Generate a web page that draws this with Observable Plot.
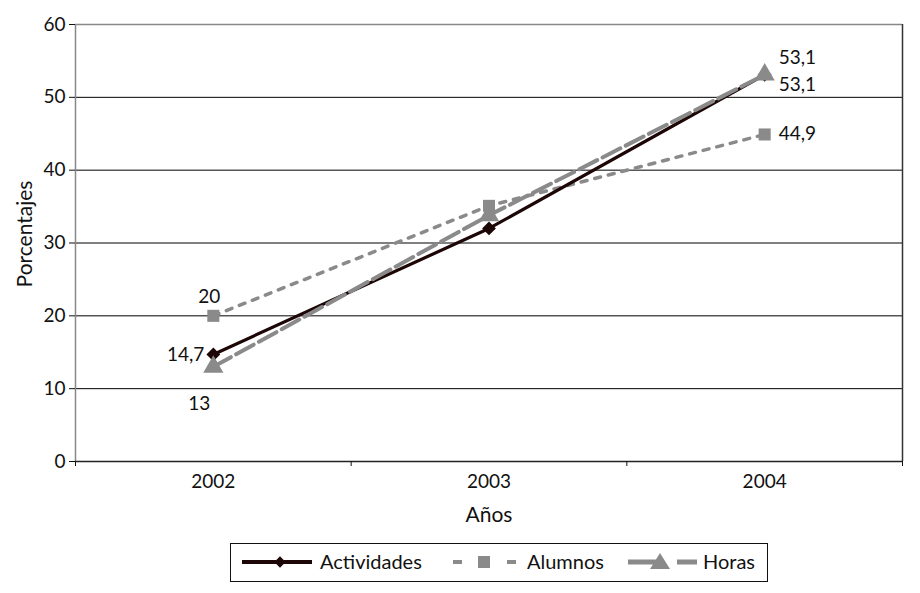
<!DOCTYPE html>
<html>
<head>
<meta charset="utf-8">
<script src="https://cdn.jsdelivr.net/npm/d3@7"></script>
<script src="https://cdn.jsdelivr.net/npm/@observablehq/plot@0.6"></script>
<style>
  body { margin: 0; background: #fff; font-family: Lato, "Open Sans", sans-serif; }
  #wrap { position: relative; width: 920px; height: 593px; }
  #legend { position: absolute; left: 0; top: 530px; }
</style>
</head>
<body>
<div id="wrap">
<div id="chart"></div>
<svg id="legend" width="920" height="63"></svg>
</div>
<script>
const years = [2002, 2003, 2004];
const actividades = [14.7, 32.0, 53.1];
const alumnos = [20, 35.1, 44.9];
const horas = [13, 33.8, 53.1];
const yTicks = [0, 10, 20, 30, 40, 50, 60];
const bandEdges = [2001.5, 2002.5, 2003.5, 2004.5];
const seriesNames = ["Actividades", "Alumnos", "Horas"];

const mk = (vals) => years.map((x, i) => ({x, y: vals[i]}));
const A = mk(actividades), B = mk(alumnos), H = mk(horas);

const fmt = v => String(v).replace(".", ",");

const dark = "#1c0606";
const gray = "#8a8a8a";
const FONT = "Lato, 'Open Sans', sans-serif";

const lbl = (x, y, dx, dy, anchor) =>
  Plot.text([{x, y}], {x: "x", y: "y", text: d => fmt(d.y), dx, dy, textAnchor: anchor, fontSize: 19, fill: "#111"});

const chart = Plot.plot({
  width: 920,
  height: 530,
  marginTop: 24,
  marginBottom: 69,
  marginLeft: 75,
  marginRight: 18,
  style: {fontFamily: FONT, fontSize: "19px", color: "#111", background: "#fff"},
  x: {domain: [2001.5, 2004.5]},
  y: {domain: [0, 60]},
  marks: [
    Plot.ruleY(yTicks.filter(d => d > 0 && d < 60), {stroke: "#000", strokeWidth: 1}),
    Plot.ruleY([60], {stroke: "#888", strokeWidth: 1.5}),
    Plot.ruleX([2001.5], {stroke: "#888", strokeWidth: 1.5}),
    Plot.ruleX([2004.5], {stroke: "#333", strokeWidth: 1.5}),
    Plot.ruleY([0], {stroke: "#222", strokeWidth: 1.5}),
    Plot.axisY({ticks: yTicks, tickSize: 6, tickPadding: 4, label: null, fontSize: 19}),
    Plot.axisX({ticks: bandEdges, tickFormat: () => "", tickSize: 5, label: null}),
    Plot.axisX({ticks: years, tickFormat: d => String(d), tickSize: 0, tickPadding: 13, label: null, fontSize: 19}),
    Plot.text(["Porcentajes"], {frameAnchor: "left", textAnchor: "middle", dx: -50, dy: -9, rotate: -90, fontSize: 21}),
    Plot.text(["Años"], {frameAnchor: "bottom", dy: 60, fontSize: 21}),
    Plot.line(B, {x: "x", y: "y", stroke: gray, strokeWidth: 3.5, strokeDasharray: "6,8"}),
    Plot.line(A, {x: "x", y: "y", stroke: dark, strokeWidth: 3.2}),
    Plot.line(H, {x: "x", y: "y", stroke: gray, strokeWidth: 4, strokeDasharray: "20,6"}),
    Plot.dot(B, {x: "x", y: "y", symbol: "square", r: 6.8, fill: gray, stroke: "none"}),
    Plot.dot(A, {x: "x", y: "y", symbol: "square", r: 5.5, rotate: 45, fill: dark, stroke: "none"}),
    Plot.dot(H, {x: "x", y: "y", symbol: "triangle", r: 7.5, fill: gray, stroke: "none"}),
    lbl(2002, alumnos[0], -4, -19, "middle"),
    lbl(2002, actividades[0], -9, 0, "end"),
    lbl(2002, horas[0], -14, 37, "middle"),
    lbl(2004, actividades[2], 14, -17, "start"),
    lbl(2004, horas[2], 14, 10, "start"),
    lbl(2004, alumnos[2], 14, -1, "start")
  ]
});
document.getElementById("chart").appendChild(chart);

// Legend (drawn below the plot's SVG)
const lg = d3.select("#legend");
const cy = 32;
lg.append("rect").attr("x", 230.5).attr("y", 13.5).attr("width", 537).attr("height", 38)
  .attr("fill", "none").attr("stroke", "#111").attr("stroke-width", 1);
// Actividades
lg.append("line").attr("x1", 242).attr("x2", 312).attr("y1", cy).attr("y2", cy).attr("stroke", dark).attr("stroke-width", 4);
lg.append("rect").attr("x", 276).attr("y", cy - 4).attr("width", 8).attr("height", 8)
  .attr("transform", `rotate(45 280 ${cy})`).attr("fill", dark);
// Alumnos
lg.append("line").attr("x1", 453).attr("x2", 517).attr("y1", cy).attr("y2", cy).attr("stroke", gray)
  .attr("stroke-width", 4).attr("stroke-dasharray", "9,16,0,29,9");
lg.append("rect").attr("x", 478).attr("y", cy - 6).attr("width", 12).attr("height", 12).attr("fill", gray);
// Horas
lg.append("line").attr("x1", 628).attr("x2", 697).attr("y1", cy).attr("y2", cy).attr("stroke", gray)
  .attr("stroke-width", 5).attr("stroke-dasharray", "34,15,20");
lg.append("path").attr("d", `M660 ${cy - 9} L670 ${cy + 7} L650 ${cy + 7} Z`).attr("fill", gray);
const textX = [320, 527, 703];
seriesNames.forEach((n, i) => {
  lg.append("text").attr("x", textX[i]).attr("y", cy).attr("dy", "0.35em")
    .attr("font-family", FONT).attr("font-size", 20).attr("fill", "#111").text(n);
});
</script>
</body>
</html>
